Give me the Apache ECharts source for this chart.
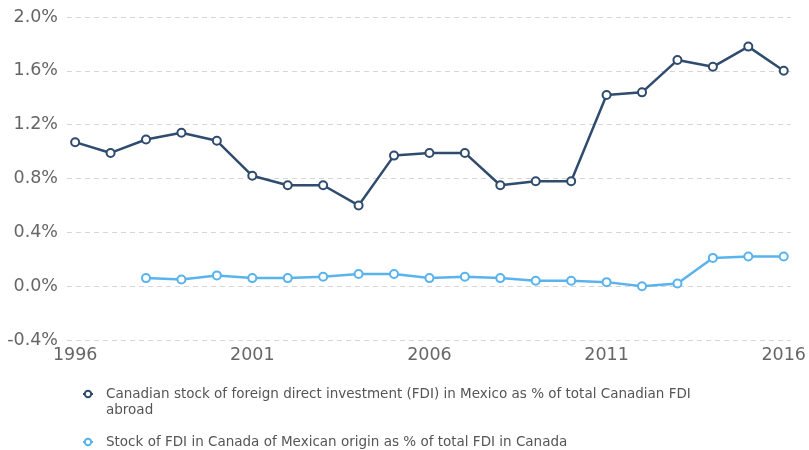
<!DOCTYPE html>
<html>
<head>
<meta charset="utf-8">
<script src="https://cdn.jsdelivr.net/npm/echarts@6/dist/echarts.min.js"></script>
<style>
  html, body { margin: 0; padding: 0; background: #fff; }
  #chart { width: 809px; height: 450px; }
</style>
</head>
<body>
<div id="chart"></div>
<script>
var years = [1996, 1997, 1998, 1999, 2000, 2001, 2002, 2003, 2004, 2005, 2006,
  2007, 2008, 2009, 2010, 2011, 2012, 2013, 2014, 2015, 2016]
var yearLabels = [1996, 2001, 2006, 2011, 2016]

// % of total Canadian FDI abroad
var canadaInMexico = [1.07, 0.99, 1.09, 1.14, 1.08, 0.82, 0.75, 0.75, 0.60, 0.97, 0.99,
  0.99, 0.75, 0.78, 0.78, 1.42, 1.44, 1.68, 1.63, 1.78, 1.60]
// % of total FDI in Canada (no data before 1998)
var mexicoInCanada = [null, null, 0.06, 0.05, 0.08, 0.06, 0.06, 0.07, 0.09, 0.09, 0.06,
  0.07, 0.06, 0.04, 0.04, 0.03, 0.00, 0.02, 0.21, 0.22, 0.22]

var seriesNames = [
  'Canadian stock of foreign direct investment (FDI) in Mexico as % of total Canadian FDI abroad',
  'Stock of FDI in Canada of Mexican origin as % of total FDI in Canada'
]
var darkBlue = '#2f4b6e'
var lightBlue = '#5ab3ec'

function pairs(vals) {
  return years.map(function(y, i) { return [y, vals[i]] })
}

var chart = echarts.init(document.getElementById('chart'))

var option = {
  animation: false,
  textStyle: { fontFamily: 'DejaVu Sans' },
  grid: { left: 67, right: 16, top: 17, bottom: 110 },
  legend: {
    orient: 'vertical',
    left: 82,
    top: 370,
    padding: 0,
    itemGap: 16,
    itemWidth: 10,
    itemHeight: 8,
    // the long name wraps; a leading blank line keeps the icon on its first line
    formatter: function(name) {
      return name === seriesNames[0] ? '\n' + name : name
    },
    textStyle: {
      fontFamily: 'DejaVu Sans',
      fontSize: 13.5,
      color: '#555',
      width: 595,
      overflow: 'break',
      lineHeight: 16,
      padding: [0, 0, 0, 8]
    },
    data: seriesNames
  },
  xAxis: {
    type: 'value',
    min: 1995.77,
    max: 2016.2,
    axisLine: { show: false },
    axisTick: { show: false },
    splitLine: { show: false },
    axisLabel: {
      customValues: yearLabels,
      fontSize: 17.5,
      color: '#666',
      margin: 6,
      formatter: function(v) { return String(v) }
    }
  },
  yAxis: {
    type: 'value',
    min: -0.4,
    max: 2.0,
    interval: 0.4,
    axisLine: { show: false },
    axisTick: { show: false },
    axisLabel: {
      fontSize: 17.5,
      color: '#666',
      margin: 9,
      formatter: function(v) { return v.toFixed(1) + '%' }
    },
    splitLine: { lineStyle: { color: '#d6d6d6', type: [5, 4], width: 1 } }
  },
  series: [
    {
      name: seriesNames[0],
      type: 'line',
      data: pairs(canadaInMexico),
      symbol: 'emptyCircle',
      symbolSize: 8,
      lineStyle: { width: 2.5, color: darkBlue },
      itemStyle: { color: darkBlue, borderWidth: 1.5 }
    },
    {
      name: seriesNames[1],
      type: 'line',
      data: pairs(mexicoInCanada),
      symbol: 'emptyCircle',
      symbolSize: 8,
      lineStyle: { width: 2.5, color: lightBlue },
      itemStyle: { color: lightBlue, borderWidth: 1.5 }
    }
  ]
}

chart.setOption(option)
</script>
</body>
</html>
